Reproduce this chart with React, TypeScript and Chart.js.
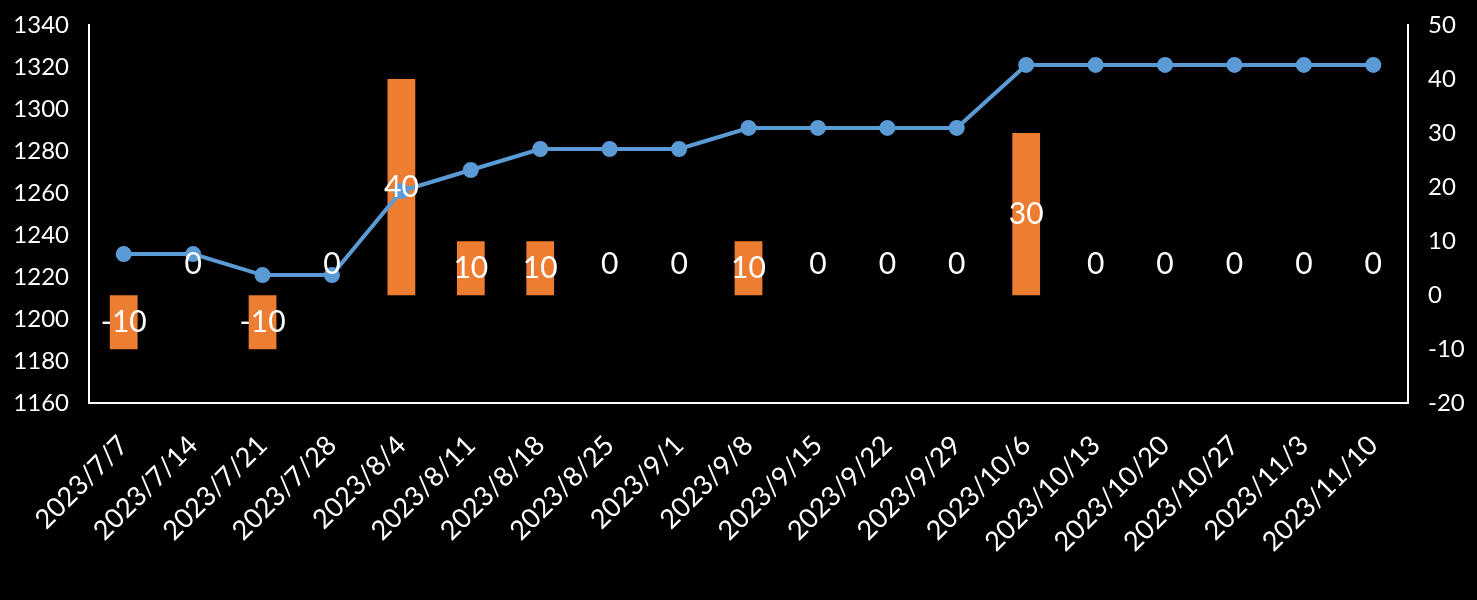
import React, { useEffect, useRef } from "react";
import { Chart, registerables } from "chart.js";

Chart.register(...registerables);

const categories = [
  "2023/7/7", "2023/7/14", "2023/7/21", "2023/7/28", "2023/8/4", "2023/8/11",
  "2023/8/18", "2023/8/25", "2023/9/1", "2023/9/8", "2023/9/15", "2023/9/22",
  "2023/9/29", "2023/10/6", "2023/10/13", "2023/10/20", "2023/10/27", "2023/11/3", "2023/11/10",
];
const priceValues = [
  1231, 1231, 1221, 1221, 1261, 1271, 1281, 1281, 1281, 1291, 1291, 1291,
  1291, 1321, 1321, 1321, 1321, 1321, 1321,
];
const changeValues = [-10, 0, -10, 0, 40, 10, 10, 0, 0, 10, 0, 0, 0, 30, 0, 0, 0, 0, 0];

const FONT = "Lato, 'Open Sans', sans-serif";

const labelPlugin = {
  id: "barLabels",
  afterDatasetsDraw(chart: any) {
    const meta = chart.getDatasetMeta(1);
    const yScale = chart.scales.y1;
    const ctx = chart.ctx;
    ctx.save();
    ctx.fillStyle = "#ffffff";
    ctx.font = `30px ${FONT}`;
    ctx.textAlign = "center";
    ctx.textBaseline = "middle";
    meta.data.forEach((bar: any, i: number) => {
      const v = changeValues[i];
      const zero = yScale.getPixelForValue(0);
      let y: number;
      if (v === 0) y = zero - 31;
      else y = (bar.y + zero) / 2;
      ctx.fillText(String(v), bar.x, y);
    });
    ctx.restore();
  },
};

const zeroPad = (scale: any) => {
  scale.paddingLeft = 0;
  scale.paddingRight = 0;
  scale.paddingTop = 0;
  scale.paddingBottom = 0;
};
const fixWidth = (w: number) => (scale: any) => {
  zeroPad(scale);
  scale.width = w;
};

export default function App() {
  const ref = useRef<HTMLCanvasElement>(null);
  useEffect(() => {
    document.body.style.margin = "0";
    const chart = new Chart(ref.current!, {
      type: "bar",
      data: {
        labels: categories,
        datasets: [
          {
            type: "line",
            label: "价格",
            data: priceValues,
            yAxisID: "y",
            borderColor: "#5B9BD5",
            backgroundColor: "#5B9BD5",
            borderWidth: 4,
            pointRadius: 6,
            pointHoverRadius: 6,
            tension: 0,
            order: 1,
          },
          {
            type: "bar",
            label: "涨跌",
            data: changeValues,
            yAxisID: "y1",
            backgroundColor: "#ED7D31",
            barPercentage: 0.4,
            categoryPercentage: 1,
            order: 2,
          },
        ],
      },
      options: {
        animation: false,
        responsive: false,
        maintainAspectRatio: false,
        layout: { padding: { top: 25, left: 14, right: 12, bottom: 16 } },
        plugins: { legend: { display: false }, tooltip: { enabled: false } },
        scales: {
          x: {
            grid: { display: false, drawTicks: false },
            border: { color: "#ffffff", width: 2 },
            afterFit: zeroPad,
            ticks: {
              color: "#ffffff",
              font: { family: FONT, size: 27 },
              maxRotation: 45,
              minRotation: 45,
              padding: 26,
              autoSkip: false,
            },
          },
          y: {
            position: "left",
            min: 1160,
            max: 1340,
            grid: { display: false, drawTicks: false },
            border: { color: "#ffffff", width: 2 },
            afterFit: fixWidth(75),
            ticks: {
              stepSize: 20,
              color: "#ffffff",
              font: { family: FONT, size: 24 },
              padding: 20,
              callback: (v: any) => String(v),
            },
          },
          y1: {
            position: "right",
            min: -20,
            max: 50,
            grid: { display: false, drawTicks: false },
            border: { color: "#ffffff", width: 2 },
            afterFit: fixWidth(57),
            ticks: {
              stepSize: 10,
              color: "#ffffff",
              font: { family: FONT, size: 24 },
              padding: 20,
              callback: (v: any) => String(v),
            },
          },
        },
      },
      plugins: [labelPlugin],
    });
    return () => chart.destroy();
  }, []);
  return (
    <div style={{ position: "absolute", left: 0, top: 0, width: 1477, height: 600, background: "#000" }}>
      <canvas ref={ref} width={1477} height={600} style={{ width: 1477, height: 600, display: "block" }} />
    </div>
  );
}
